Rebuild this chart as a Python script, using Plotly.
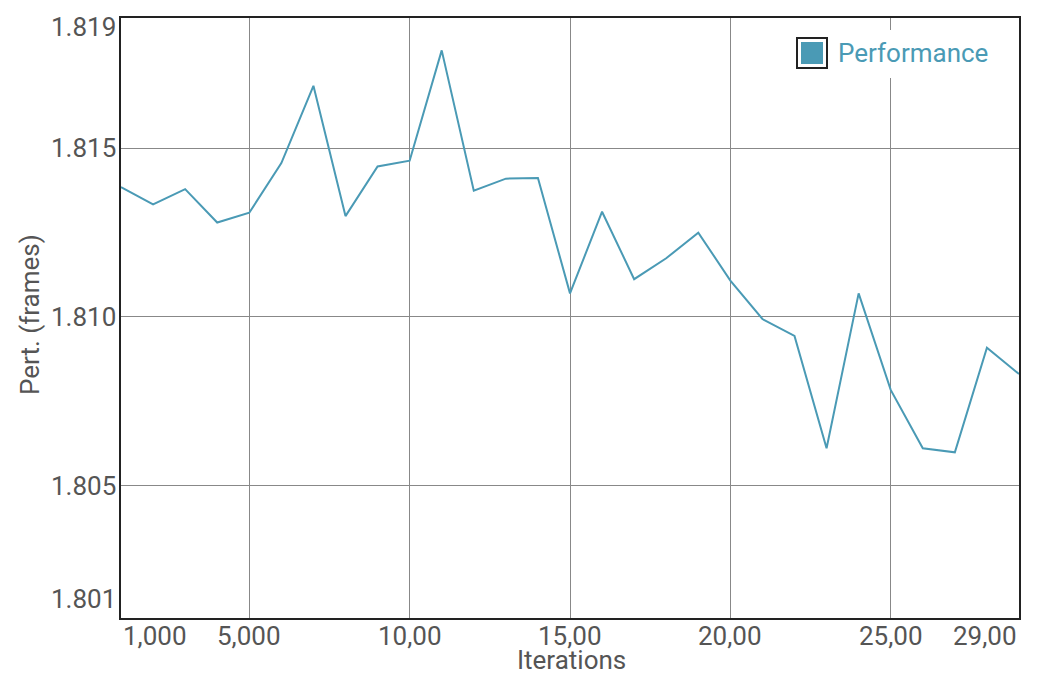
import plotly.graph_objects as go

iterations = list(range(1000, 30000, 1000))
performance = [1.81385, 1.81334, 1.81379, 1.81280, 1.81309, 1.81456, 1.81685, 1.81299,
               1.81446, 1.81463, 1.81790, 1.81374, 1.81410, 1.81412, 1.81070, 1.81312,
               1.81112, 1.81174, 1.81250, 1.81108, 1.80994, 1.80944, 1.80611, 1.81070,
               1.80784, 1.80611, 1.80599, 1.80909, 1.80831]

x_tickvals = [1000, 5000, 10000, 15000, 20000, 25000, 29000]
x_ticktext = ["1,000", "5,000", "10,00", "15,00", "20,00", "25,00", "29,00"]
y_tickvals = [1.801, 1.805, 1.810, 1.815, 1.819]
y_ticktext = ["1.801", "1.805", "1.810", "1.815", "1.819"]
x_title = "Iterations"
y_title = "Pert. (frames)"
series_name = "Performance"

LINE = "#4a9ab5"
TXT = "#555555"
FONT = "Roboto"
FS = 26

# page offset from the default 8px body margin
OFF = 8
# plot-area pixel box in page coordinates
L, R, T, B = 121, 1019, 18, 618
W, H = 1048 - OFF, 682 - OFF

fig = go.Figure()
fig.add_trace(go.Scatter(x=iterations, y=performance, mode="lines",
                         line=dict(color=LINE, width=2), showlegend=False,
                         hoverinfo="x+y"))

fig.update_layout(
    width=W, height=H,
    margin=dict(l=L - OFF, r=W + OFF - R, t=T - OFF, b=H + OFF - B),
    paper_bgcolor="white", plot_bgcolor="white",
    font=dict(family=FONT, size=FS, color=TXT),
    showlegend=False,
)
fig.update_xaxes(range=[1000, 29000], tickvals=x_tickvals[1:-1],
                 showticklabels=False, automargin=False,
                 showgrid=True, gridcolor="#888888", gridwidth=1,
                 showline=True, linecolor="#222222", linewidth=2, mirror=True,
                 ticks="", zeroline=False)
fig.update_yaxes(range=[1.80108, 1.81886], tickvals=y_tickvals[1:-1],
                 showticklabels=False, automargin=False,
                 showgrid=True, gridcolor="#888888", gridwidth=1,
                 showline=True, linecolor="#222222", linewidth=2, mirror=True,
                 ticks="", zeroline=False)

def f(size=FS, color=TXT):
    return dict(family=FONT, size=size, color=color)

def px(xp, yp):
    return (xp - L) / (R - L), (B - yp) / (B - T)

ann = []
n = len(x_tickvals)
for i, (v, t) in enumerate(zip(x_tickvals, x_ticktext)):
    anchor = "left" if i == 0 else ("right" if i == n - 1 else "center")
    ann.append(dict(x=v, xref="x", y=0, yref="paper", text=t, xanchor=anchor,
                    yanchor="top", showarrow=False, yshift=-1, font=f()))
m = len(y_tickvals)
for i, (v, t) in enumerate(zip(y_tickvals, y_ticktext)):
    if i == 0:
        d = dict(y=0, yref="paper", yanchor="bottom", yshift=2)
    elif i == m - 1:
        d = dict(y=1, yref="paper", yanchor="top", yshift=8)
    else:
        d = dict(y=v, yref="y", yanchor="middle", yshift=0)
    ann.append(dict(x=0, xref="paper", text=t, xanchor="right", showarrow=False,
                    xshift=-3, font=f(), **d))

ax, ay = px(571, 643)
ann.append(dict(x=ax, xref="paper", y=ay, yref="paper", text=x_title, xanchor="center",
                yanchor="top", showarrow=False, font=f()))
ax, ay = px(30, 315)
ann.append(dict(x=ax, xref="paper", y=ay, yref="paper", text=y_title, xanchor="center",
                yanchor="middle", textangle=-90, showarrow=False, font=f()))

# manual legend
ax, ay = px(836, 53)
ann.append(dict(x=ax, xref="paper", y=ay, yref="paper", text=series_name,
                xanchor="left", yanchor="middle", showarrow=False, font=f(color=LINE)))

shapes = []
x0, y0 = px(787, 30); x1, y1 = px(1003, 78)
shapes.append(dict(type="rect", xref="paper", yref="paper", x0=x0, y0=y0, x1=x1, y1=y1,
                   fillcolor="white", line=dict(width=0), layer="above"))
x0, y0 = px(797, 38); x1, y1 = px(827, 68)
shapes.append(dict(type="rect", xref="paper", yref="paper", x0=x0, y0=y0, x1=x1, y1=y1,
                   fillcolor="white", line=dict(color="#222222", width=2), layer="above"))
x0, y0 = px(801, 42); x1, y1 = px(823, 64)
shapes.append(dict(type="rect", xref="paper", yref="paper", x0=x0, y0=y0, x1=x1, y1=y1,
                   fillcolor=LINE, line=dict(width=0), layer="above"))

fig.update_layout(annotations=ann, shapes=shapes)
fig.write_html("out.html")
